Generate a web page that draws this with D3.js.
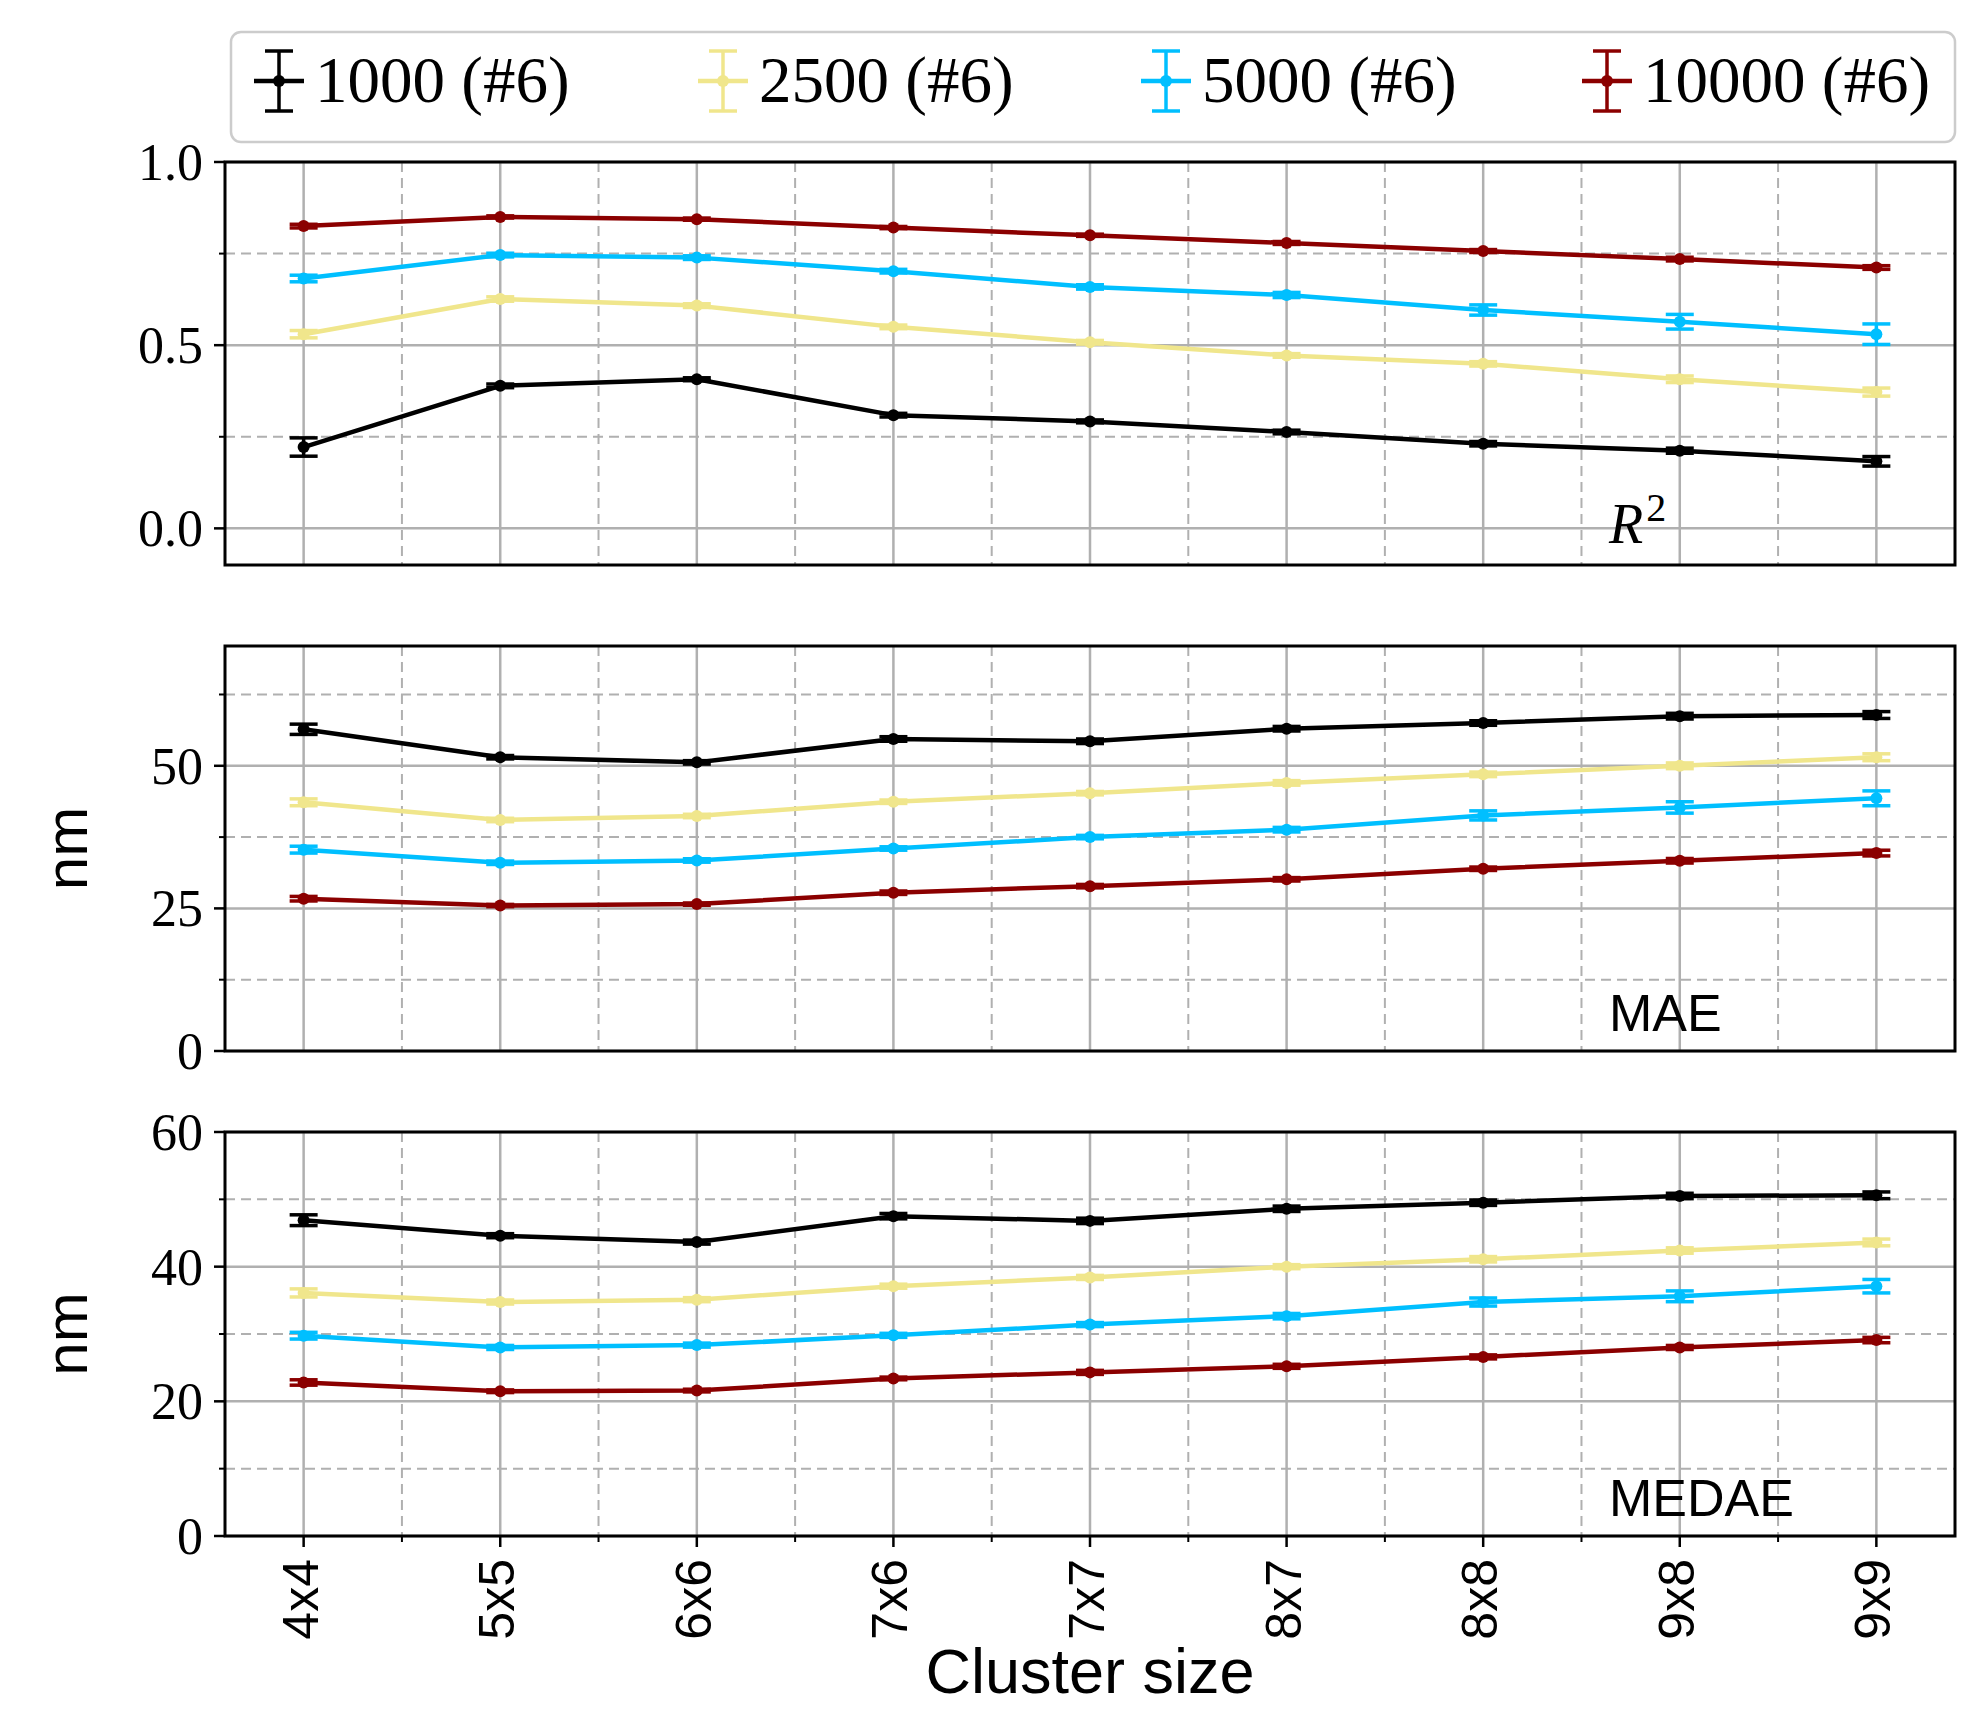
<!DOCTYPE html>
<html>
<head>
<meta charset="utf-8">
<script src="https://cdn.jsdelivr.net/npm/d3@7"></script>
<style>
  html, body { margin: 0; padding: 0; background: #fff; }
  svg { display: block; }
</style>
</head>
<body>
<svg id="chart" width="1984" height="1709"></svg>
<script>
// ---------------- DATA ----------------
const categories = ["4x4", "5x5", "6x6", "7x6", "7x7", "8x7", "8x8", "9x8", "9x9"];
const seriesNames = ["1000 (#6)", "2500 (#6)", "5000 (#6)", "10000 (#6)"];
const seriesColors = ["#000000", "#f0e68c", "#00bfff", "#8b0000"];

// R^2
const r2_1000  = [0.222, 0.389, 0.407, 0.309, 0.292, 0.263, 0.231, 0.212, 0.183];
const r2_2500  = [0.530, 0.626, 0.608, 0.550, 0.508, 0.472, 0.449, 0.407, 0.372];
const r2_5000  = [0.682, 0.746, 0.739, 0.702, 0.659, 0.637, 0.596, 0.564, 0.530];
const r2_10000 = [0.825, 0.850, 0.844, 0.821, 0.800, 0.779, 0.757, 0.735, 0.712];
const r2err_1000  = [0.025, 0.005, 0.004, 0.005, 0.004, 0.005, 0.006, 0.007, 0.013];
const r2err_2500  = [0.010, 0.006, 0.005, 0.005, 0.005, 0.005, 0.006, 0.009, 0.011];
const r2err_5000  = [0.009, 0.005, 0.005, 0.005, 0.006, 0.007, 0.014, 0.020, 0.028];
const r2err_10000 = [0.005, 0.003, 0.003, 0.003, 0.003, 0.004, 0.004, 0.005, 0.005];

// MAE (nm)
const mae_1000  = [56.4, 51.5, 50.6, 54.7, 54.3, 56.5, 57.5, 58.7, 58.9];
const mae_2500  = [43.6, 40.5, 41.2, 43.7, 45.2, 47.0, 48.5, 50.0, 51.5];
const mae_5000  = [35.3, 33.0, 33.4, 35.5, 37.5, 38.8, 41.3, 42.7, 44.3];
const mae_10000 = [26.7, 25.5, 25.75, 27.75, 28.9, 30.1, 31.95, 33.35, 34.7];
const maeerr_1000  = [0.9, 0.3, 0.3, 0.4, 0.4, 0.4, 0.4, 0.5, 0.6];
const maeerr_2500  = [0.6, 0.3, 0.3, 0.3, 0.3, 0.4, 0.4, 0.5, 0.6];
const maeerr_5000  = [0.6, 0.3, 0.3, 0.3, 0.3, 0.4, 0.8, 1.0, 1.3];
const maeerr_10000 = [0.4, 0.2, 0.2, 0.3, 0.3, 0.3, 0.3, 0.4, 0.5];

// MEDAE (nm)
const medae_1000  = [46.9, 44.6, 43.65, 47.5, 46.8, 48.6, 49.5, 50.5, 50.6];
const medae_2500  = [36.1, 34.75, 35.1, 37.1, 38.4, 40.0, 41.1, 42.4, 43.6];
const medae_5000  = [29.75, 28.0, 28.35, 29.8, 31.4, 32.65, 34.75, 35.6, 37.1];
const medae_10000 = [22.8, 21.5, 21.6, 23.4, 24.3, 25.2, 26.6, 28.0, 29.1];
const medaeerr_1000  = [0.8, 0.3, 0.3, 0.4, 0.4, 0.4, 0.4, 0.4, 0.5];
const medaeerr_2500  = [0.6, 0.3, 0.3, 0.3, 0.3, 0.3, 0.4, 0.4, 0.5];
const medaeerr_5000  = [0.5, 0.3, 0.3, 0.3, 0.3, 0.4, 0.6, 0.8, 1.0];
const medaeerr_10000 = [0.4, 0.2, 0.2, 0.2, 0.3, 0.3, 0.3, 0.3, 0.4];

// Tick labels
const r2Ticks = [0.0, 0.5, 1.0];
const r2TickLabels = ["0.0", "0.5", "1.0"];
const r2Minor = [0.25, 0.75];
const maeTicks = [0, 25, 50];
const maeTickLabels = ["0", "25", "50"];
const maeMinor = [12.5, 37.5, 62.5];
const medaeTicks = [0, 20, 40, 60];
const medaeTickLabels = ["0", "20", "40", "60"];
const medaeMinor = [10, 30, 50];

// ---------------- LAYOUT ----------------
const svg = d3.select("#chart");
const left = 225, right = 1955;
const panels = [
  { top: 162, bottom: 565, domain: [-0.1, 1.0], ticks: r2Ticks, labels: r2TickLabels, minor: r2Minor,
    values: [r2_1000, r2_2500, r2_5000, r2_10000], errs: [r2err_1000, r2err_2500, r2err_5000, r2err_10000],
    tag: "R2", ylabel: null, xaxis: false },
  { top: 646, bottom: 1051, domain: [0, 71], ticks: maeTicks, labels: maeTickLabels, minor: maeMinor,
    values: [mae_1000, mae_2500, mae_5000, mae_10000], errs: [maeerr_1000, maeerr_2500, maeerr_5000, maeerr_10000],
    tag: "MAE", ylabel: "nm", xaxis: false },
  { top: 1132, bottom: 1536, domain: [0, 60], ticks: medaeTicks, labels: medaeTickLabels, minor: medaeMinor,
    values: [medae_1000, medae_2500, medae_5000, medae_10000], errs: [medaeerr_1000, medaeerr_2500, medaeerr_5000, medaeerr_10000],
    tag: "MEDAE", ylabel: "nm", xaxis: true }
];

const x = d3.scalePoint().domain(categories).range([left, right]).padding(0.4);
const step = x.step();
const minorX = categories.slice(0, -1).map(c => x(c) + step / 2);

const gridColor = "#b0b0b0";
const serifFont = "'Liberation Serif', 'DejaVu Serif', serif";
const sansFont = "'Liberation Sans', Arial, sans-serif";

panels.forEach(p => {
  const y = d3.scaleLinear().domain(p.domain).range([p.bottom, p.top]);
  const g = svg.append("g");

  // minor grid (dashed)
  g.selectAll(".mgx").data(minorX).enter().append("line")
    .attr("x1", d => d).attr("x2", d => d).attr("y1", p.top).attr("y2", p.bottom)
    .attr("stroke", gridColor).attr("stroke-width", 2).attr("stroke-dasharray", "10,6");
  g.selectAll(".mgy").data(p.minor).enter().append("line")
    .attr("x1", left).attr("x2", right).attr("y1", d => y(d)).attr("y2", d => y(d))
    .attr("stroke", gridColor).attr("stroke-width", 2).attr("stroke-dasharray", "10,6");
  // major grid
  g.selectAll(".gx").data(categories).enter().append("line")
    .attr("x1", d => x(d)).attr("x2", d => x(d)).attr("y1", p.top).attr("y2", p.bottom)
    .attr("stroke", gridColor).attr("stroke-width", 2.5);
  g.selectAll(".gy").data(p.ticks).enter().append("line")
    .attr("x1", left).attr("x2", right).attr("y1", d => y(d)).attr("y2", d => y(d))
    .attr("stroke", gridColor).attr("stroke-width", 2.5);

  // series
  p.values.forEach((vals, si) => {
    const col = seriesColors[si];
    const errs = p.errs[si];
    const sg = g.append("g");
    const line = d3.line().x((d, i) => x(categories[i])).y(d => y(d));
    sg.append("path").datum(vals).attr("d", line)
      .attr("fill", "none").attr("stroke", col).attr("stroke-width", 4.5).attr("stroke-linejoin", "round");
    vals.forEach((v, i) => {
      const cx = x(categories[i]);
      const e = errs[i];
      sg.append("line").attr("x1", cx).attr("x2", cx).attr("y1", y(v - e)).attr("y2", y(v + e))
        .attr("stroke", col).attr("stroke-width", 3.5);
      [v - e, v + e].forEach(w => {
        sg.append("line").attr("x1", cx - 14).attr("x2", cx + 14).attr("y1", y(w)).attr("y2", y(w))
          .attr("stroke", col).attr("stroke-width", 3.5);
      });
      sg.append("circle").attr("cx", cx).attr("cy", y(v)).attr("r", 6).attr("fill", col);
    });
  });

  // spines
  g.append("rect").attr("x", left).attr("y", p.top).attr("width", right - left).attr("height", p.bottom - p.top)
    .attr("fill", "none").attr("stroke", "#000").attr("stroke-width", 3);

  // y ticks
  g.selectAll(".yt").data(p.ticks).enter().append("line")
    .attr("x1", left - 11).attr("x2", left).attr("y1", d => y(d)).attr("y2", d => y(d))
    .attr("stroke", "#000").attr("stroke-width", 2.5);
  g.selectAll(".ymt").data(p.minor).enter().append("line")
    .attr("x1", left - 6).attr("x2", left).attr("y1", d => y(d)).attr("y2", d => y(d))
    .attr("stroke", "#000").attr("stroke-width", 2);
  g.selectAll(".ytl").data(p.ticks).enter().append("text")
    .attr("x", left - 22).attr("y", d => y(d) + 18)
    .attr("text-anchor", "end").attr("font-family", serifFont).attr("font-size", 52)
    .text((d, i) => p.labels[i]);

  // inner tag
  if (p.tag === "R2") {
    const t = g.append("text").attr("x", left + 0.8 * (right - left)).attr("y", p.bottom - 22)
      .attr("font-family", serifFont).attr("font-size", 56);
    t.append("tspan").attr("font-style", "italic").text("R");
    t.append("tspan").attr("font-size", 40).attr("dx", 3).attr("dy", -22).text("2");
  } else {
    g.append("text").attr("x", left + 0.8 * (right - left)).attr("y", p.bottom - 20)
      .attr("font-family", sansFont).attr("font-size", 52).text(p.tag);
  }

  // y label
  if (p.ylabel) {
    const cy = (p.top + p.bottom) / 2;
    g.append("text").attr("transform", `translate(87,${cy}) rotate(-90)`)
      .attr("text-anchor", "middle").attr("font-family", sansFont).attr("font-size", 60)
      .text(p.ylabel);
  }

  // x axis
  if (p.xaxis) {
    g.selectAll(".xt").data(categories).enter().append("line")
      .attr("x1", d => x(d)).attr("x2", d => x(d)).attr("y1", p.bottom).attr("y2", p.bottom + 11)
      .attr("stroke", "#000").attr("stroke-width", 2.5);
    g.selectAll(".xmt").data(minorX).enter().append("line")
      .attr("x1", d => d).attr("x2", d => d).attr("y1", p.bottom).attr("y2", p.bottom + 6)
      .attr("stroke", "#000").attr("stroke-width", 2);
    g.selectAll(".xtl").data(categories).enter().append("text")
      .attr("transform", d => `translate(${x(d) + 14},${p.bottom + 23}) rotate(-90)`)
      .attr("text-anchor", "end").attr("font-family", sansFont).attr("font-size", 50)
      .text(d => d);
    g.append("text").attr("x", (left + right) / 2).attr("y", 1693)
      .attr("text-anchor", "middle").attr("font-family", sansFont).attr("font-size", 63)
      .text("Cluster size");
  }
});

// ---------------- LEGEND ----------------
const lg = svg.append("g");
lg.append("rect").attr("x", 231).attr("y", 32).attr("width", 1724).attr("height", 110)
  .attr("rx", 10).attr("fill", "#fff").attr("stroke", "#cccccc").attr("stroke-width", 2.5);
const legendX = [279, 723, 1166, 1607];
seriesNames.forEach((name, i) => {
  const cx = legendX[i], cy = 81, col = seriesColors[i];
  lg.append("line").attr("x1", cx - 25).attr("x2", cx + 25).attr("y1", cy).attr("y2", cy)
    .attr("stroke", col).attr("stroke-width", 4.5);
  lg.append("line").attr("x1", cx).attr("x2", cx).attr("y1", 51).attr("y2", 111)
    .attr("stroke", col).attr("stroke-width", 3.5);
  [51, 111].forEach(yy => lg.append("line").attr("x1", cx - 14).attr("x2", cx + 14)
    .attr("y1", yy).attr("y2", yy).attr("stroke", col).attr("stroke-width", 3.5));
  lg.append("circle").attr("cx", cx).attr("cy", cy).attr("r", 6).attr("fill", col);
  lg.append("text").attr("x", cx + 36).attr("y", 102)
    .attr("font-family", serifFont).attr("font-size", 65).text(name);
});
</script>
</body>
</html>
